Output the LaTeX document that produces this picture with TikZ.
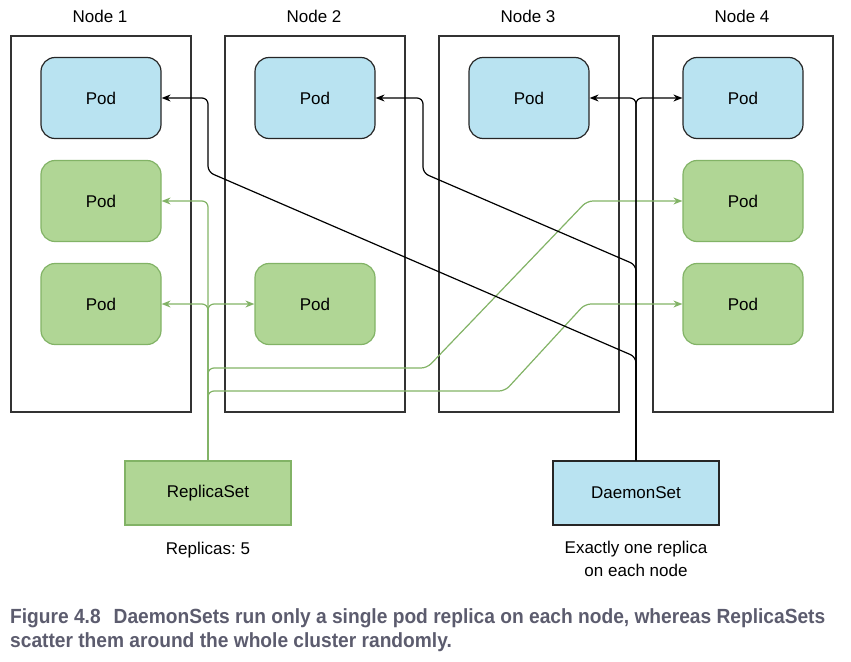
\documentclass[tikz,border=0pt]{standalone}
\usepackage{fontspec}
\setmainfont{Liberation Sans}
\newfontfamily\capfont[FakeStretch=0.935]{Liberation Sans}
\usepackage{tikz}
\usetikzlibrary{positioning, arrows.meta}

\definecolor{podblue}{HTML}{B9E3F1}
\definecolor{podgreen}{HTML}{B0D695}
\definecolor{linegreen}{HTML}{82B366}
\definecolor{capgray}{HTML}{5C5C6E}

\frenchspacing
\begin{document}
\begin{tikzpicture}[x=1pt, y=-1pt,
        font=\fontsize{17}{20}\selectfont,
        hostbox/.style={draw=black!80, line width=1.4pt, minimum width=180pt, minimum height=376pt, inner sep=0pt},
        pod/.style={rounded corners=14pt, minimum width=120pt, minimum height=81pt, inner sep=0pt},
        bluepod/.style={pod, draw=black!85, line width=1.2pt, fill=podblue},
        greenpod/.style={pod, draw=linegreen, line width=1.2pt, fill=podgreen},
        setbox/.style={minimum width=166pt, minimum height=64pt, inner sep=0pt, line width=1.2pt},
        gline/.style={draw=linegreen, line width=1.2pt, rounded corners=6pt},
        bline/.style={draw=black, line width=1.2pt, rounded corners=6pt},
        tip/.style={-{Stealth[length=9pt, width=7pt]}},
        caption/.style={anchor=base west, inner sep=0pt, text=capgray, font=\capfont\bfseries\fontsize{20.5}{24}\selectfont}]
    \useasboundingbox (0,0) rectangle (851,661);

    % cluster nodes with their daemon pods
    \foreach \i/\x in {1/101, 2/315, 3/529, 4/743} {
            \node[hostbox] (n\i) at (\x,224) {};
            \node[anchor=base] at (\x-1,23) {Node \i};
            \node[bluepod] (b\i) at (\x,98) {Pod};
        };

    % pods of the replica set
    \node[greenpod] (g11) at (101,201) {Pod};
    \node[greenpod] (g12) at (101,304) {Pod};
    \node[greenpod] (g22) at (315,304) {Pod};
    \node[greenpod] (g41) at (743,201) {Pod};
    \node[greenpod] (g42) at (743,304) {Pod};

    \node[setbox, draw=linegreen, fill=podgreen] (rs) at (208,493) {ReplicaSet};
    \node[setbox, draw=black!85, fill=podblue] (ds) at (636,493) {DaemonSet};
    \node[below=13pt of rs] (rsnote) {Replicas: 5};
    \node[below=12pt of ds, align=center, font=\fontsize{17}{23}\selectfont] (dsnote) {Exactly one replica\\on each node};

    % replica set connectors
    \draw[gline, tip] (rs.north) |- (g11.east);
    \draw[gline, tip] (rs.north) |- (g12.east);
    \draw[gline, tip] (rs.north) |- (g22.west);
    \draw[gline, tip] (rs.north) |- (427,368) -- (587,201) -- (g41.west);
    \draw[gline, tip] (rs.north) |- (505,391) -- (585,304) -- (g42.west);

    % daemon set connectors
    \draw[bline, tip] (ds.north) |- (b3.east);
    \draw[bline, tip] (ds.north) |- (b4.west);
    \draw[bline, tip] (ds.north) -- (636,265) -- (423,173) |- (b2.east);
    \draw[bline, tip] (ds.north) -- (636,357) -- (208,172) |- (b1.east);

    % caption
    \node[caption] (cap1) at (10,623)
        {Figure 4.8\hspace{13pt}DaemonSets run only a single pod replica on each node, whereas ReplicaSets};
    \node[caption] (cap2) at (10,647)
        {scatter them around the whole cluster randomly.};
\end{tikzpicture}
\end{document}
